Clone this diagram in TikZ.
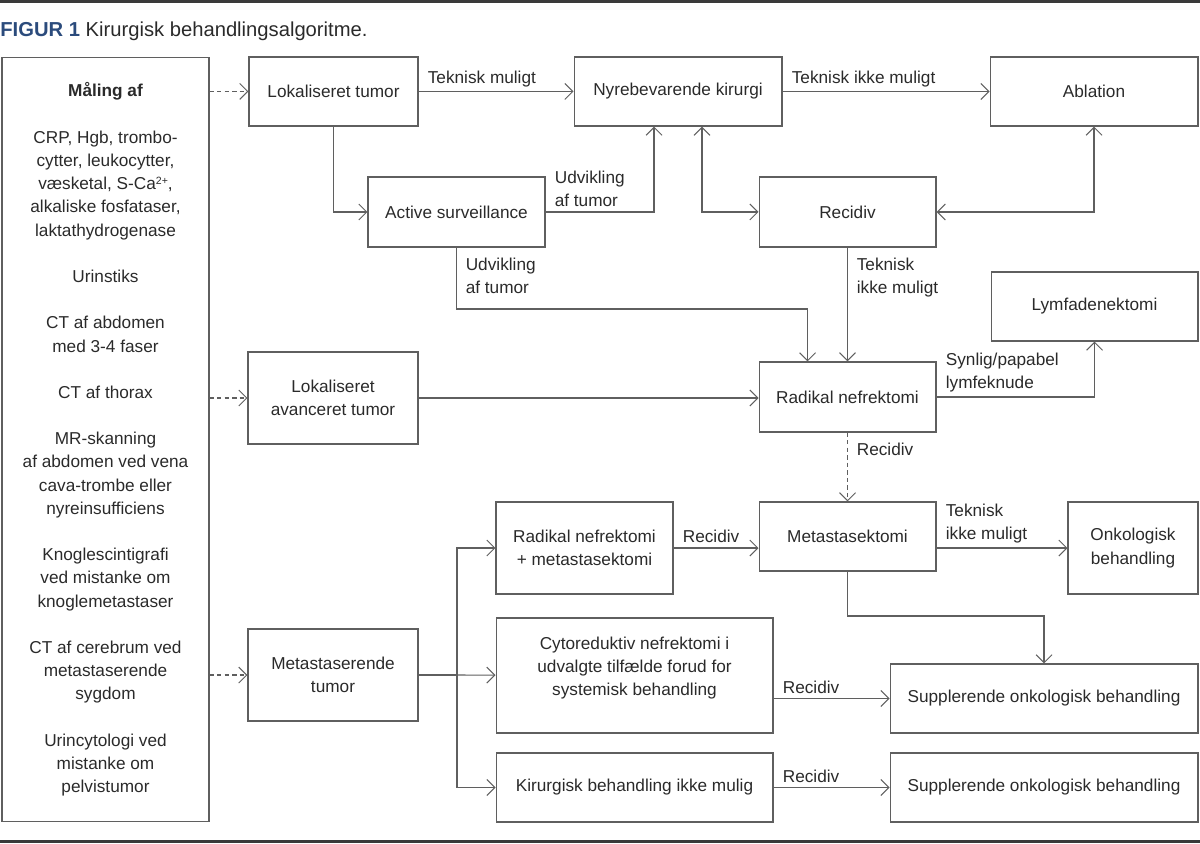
\documentclass[tikz,border=0pt]{standalone}
\usepackage{fontspec}
\setmainfont{Liberation Sans}
\usetikzlibrary{arrows.meta}
\definecolor{figblue}{HTML}{2B4B7C}
\definecolor{linegray}{HTML}{5F5F5F}
\definecolor{textgray}{HTML}{2A2A2A}
\definecolor{rulegray}{HTML}{3A3A3A}

\begin{document}
\begin{tikzpicture}[x=0.02cm, y=-0.02cm,
  every node/.style={text=textgray, font=\fontsize{9.8pt}{13.2pt}\selectfont},
  box/.style={draw=linegray, line width=0.6pt, align=center, inner sep=2pt},
  arr/.style={draw=linegray, line width=0.6pt, -{Straight Barb[length=1.6mm,width=3.2mm]}},
  arrtwo/.style={arr, {Straight Barb[length=1.6mm,width=3.2mm]}-{Straight Barb[length=1.6mm,width=3.2mm]}},
  dasharr/.style={arr, dash pattern=on 2.5pt off 1.8pt},
  lbl/.style={inner xsep=5pt, inner ysep=2.5pt, align=left},
  lblbelow/.style={lbl, below right, yshift=-3.2pt}]
%  \draw[style=help lines, step=100] (0,0) grid (1200,844);
  \useasboundingbox (0,0) rectangle (1200,844);

  \draw[rulegray, line width=2pt] (0,1.5) -- (1200,1.5);
  \draw[rulegray, line width=2pt] (0,841.5) -- (1200,841.5);
  \node[anchor=west, inner sep=0pt, font=\fontsize{11.5pt}{13pt}\selectfont] (title) at (0,31)
    {\textcolor{figblue}{\bfseries FIGUR 1} Kirurgisk behandlingsalgoritme.};

  \node[box, minimum width=4.14cm, minimum height=15.3cm] (maal) at (105.5,439.5) {
    {\bfseries Måling af}\\[13.2pt]
    CRP, Hgb, trombo-\\cytter, leukocytter,\\væsketal, S-Ca\raisebox{3.2pt}{\fontsize{6pt}{6pt}\selectfont 2+},\\alkaliske fosfataser,\\laktathydrogenase\\[13.2pt]
    Urinstiks\\[13.2pt]
    CT af abdomen\\med 3-4 faser\\[13.2pt]
    CT af thorax\\[13.2pt]
    MR-skanning\\af abdomen ved vena\\cava-trombe eller\\nyreinsufficiens\\[13.2pt]
    Knoglescintigrafi\\ved mistanke om\\knoglemetastaser\\[13.2pt]
    CT af cerebrum ved\\metastaserende\\sygdom\\[13.2pt]
    Urincytologi ved\\mistanke om\\pelvistumor
  };

  \node[box, minimum width=3.38cm, minimum height=1.38cm] (lok) at (333.5,91.5) {Lokaliseret tumor};
  \node[box, minimum width=4.16cm, minimum height=1.38cm] (nyre) at (678,91.5) {Nyrebevarende kirurgi};
  \node[box, minimum width=4.16cm, minimum height=1.38cm] (abl) at (1094,91.5) {Ablation};
  \node[box, minimum width=3.54cm, minimum height=1.4cm] (as) at (456.5,212) {Active surveillance};
  \node[box, minimum width=3.54cm, minimum height=1.4cm] (rec) at (847.5,212) {Recidiv};
  \node[box, minimum width=4.14cm, minimum height=1.38cm] (lymf) at (1094.5,306.5) {Lymfadenektomi};
  \node[box, minimum width=3.4cm, minimum height=1.84cm] (lat) at (333,398) {Lokaliseret\\avanceret tumor};
  \node[box, minimum width=3.54cm, minimum height=1.4cm] (rn) at (847.5,397) {Radikal nefrektomi};
  \node[box, minimum width=3.54cm, minimum height=1.84cm] (rnm) at (584.5,548) {Radikal nefrektomi\\+ metastasektomi};
  \node[box, minimum width=3.54cm, minimum height=1.38cm] (meta) at (847.5,536.5) {Metastasektomi};
  \node[box, minimum width=2.6cm, minimum height=1.84cm] (onk) at (1133,548) {Onkologisk\\behandling};
  \node[box, minimum width=3.4cm, minimum height=1.84cm] (met) at (333,675) {Metastaserende\\tumor};
  \node[box, minimum width=5.54cm, minimum height=2.3cm] (cyto) at (634.5,675.5)
    {Cytoreduktiv nefrektomi i\\udvalgte tilfælde forud for\\systemisk behandling\\[-3pt]};
  \node[box, minimum width=6.16cm, minimum height=1.38cm] (suppa) at (1044,698.5) {Supplerende onkologisk behandling};
  \node[box, minimum width=5.54cm, minimum height=1.38cm] (kir) at (634.5,787.5) {Kirurgisk behandling ikke mulig};
  \node[box, minimum width=6.16cm, minimum height=1.38cm] (suppb) at (1044,787.5) {Supplerende onkologisk behandling};

  \foreach \n in {lok, lat, met}
    \draw[dasharr] (maal.east |- \n.west) -- (\n.west);

  \coordinate (nyreA) at ([xshift=-0.48cm]nyre.south);
  \coordinate (nyreB) at ([xshift=0.48cm]nyre.south);
  \coordinate (rnA) at ([xshift=-0.8cm]rn.north);
  \coordinate (split) at (457,675);

  \draw[arr] (lok.east) -- node[lbl, above right, pos=0] {Teknisk muligt} (nyre.west);
  \draw[arr] (nyre.east) -- node[lbl, above right, pos=0] {Teknisk ikke muligt} (abl.west);
  \draw[arr] (lok) |- (as);
  \draw[arr] (as.east) -- node[lbl, above right, pos=0] {Udvikling\\af tumor} (as.east -| nyreA) -- (nyreA);
  \draw[arrtwo] (nyreB) |- (rec.west);
  \draw[arrtwo] (abl.south) |- (rec.east);
  \draw[arr] (as.south) -- node[lblbelow, pos=0] {Udvikling\\af tumor} (as.south |- 0,309) -| (rnA);
  \draw[arr] (rec) -- node[lblbelow, pos=0] {Teknisk\\ikke muligt} (rn);
  \draw[arr] (lat.east) -- (lat.east -| rn.west);
  \draw[arr] (rn.east) -- node[lbl, above right, pos=0] {Synlig/papabel\\lymfeknude} (rn.east -| lymf.south) -- (lymf.south);
  \draw[dasharr] (rn) -- node[lblbelow, pos=0] {Recidiv} (meta);
  \draw[arr] (rnm.east) -- node[lbl, above right, pos=0] {Recidiv} (rnm.east -| meta.west);
  \draw[arr] (meta.east |- onk.west) -- node[lbl, above right, pos=0] {Teknisk\\ikke muligt} (onk.west);
  \draw[arr] (meta.south) -- (meta.south |- 0,616) -| (suppa.north);
  \draw[arr] (met) -- (split) |- (rnm);
  \draw[arr] (split) -- (cyto);
  \draw[arr] (split) |- (kir);
  \draw[arr] (cyto.east |- suppa.west) -- node[lbl, above right, pos=0] {Recidiv} (suppa.west);
  \draw[arr] (kir) -- node[lbl, above right, pos=0] {Recidiv} (suppb);
\end{tikzpicture}
\end{document}
